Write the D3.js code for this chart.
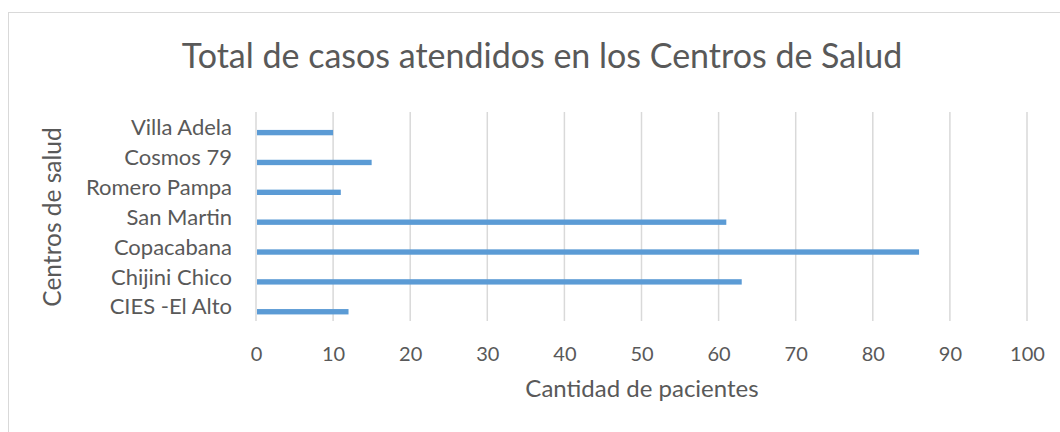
<!DOCTYPE html>
<html>
<head>
<meta charset="utf-8">
<script src="https://cdn.jsdelivr.net/npm/d3@7"></script>
<style>
  body { margin: 0; background: #fff; }
  svg text { font-family: Lato, "Open Sans", sans-serif; fill: #595959; }
</style>
</head>
<body>
<svg id="chart" width="1060" height="432"></svg>
<script>
const categories = ["Villa Adela", "Cosmos 79", "Romero Pampa", "San Martin", "Copacabana", "Chijini Chico", "CIES -El Alto"];
const values = [10, 15, 11, 61, 86, 63, 12];
const xTicks = [0, 10, 20, 30, 40, 50, 60, 70, 80, 90, 100];
const titleText = "Total de casos atendidos en los Centros de Salud";
const xTitle = "Cantidad de pacientes";
const yTitle = "Centros de salud";

(function () {
const svg = d3.select("#chart");

svg.append("rect")
  .attr("x", 8.5).attr("y", 12.5).attr("width", 1060).attr("height", 430)
  .attr("fill", "#fff").attr("stroke", "#d9d9d9").attr("stroke-width", 1);

const pLeft = 256, pRight = 1027, pTop = 112, pBottom = 321;

const x = d3.scaleLinear().domain([0, 100]).range([pLeft, pRight]);
const y = d3.scaleBand().domain(categories).range([pTop, pBottom]).padding(0);

// gridlines
svg.append("g").selectAll("line").data(xTicks).join("line")
  .attr("x1", d => x(d)).attr("x2", d => x(d))
  .attr("y1", pTop).attr("y2", pBottom)
  .attr("stroke", "#d9d9d9").attr("stroke-width", 1.5);

// bars
svg.append("g").selectAll("rect").data(categories).join("rect")
  .attr("x", x(0) + 1)
  .attr("y", c => y(c) + y.bandwidth() * 0.6)
  .attr("width", (c, i) => x(values[i]) - x(0) - 1)
  .attr("height", y.bandwidth() * 0.18)
  .attr("fill", "#5b9bd5");

// x tick labels
const xAxis = d3.axisBottom(x).tickValues(xTicks).tickSize(0).tickPadding(0);
const gx = svg.append("g").attr("transform", `translate(0,${pBottom})`).call(xAxis);
gx.select(".domain").remove();
gx.selectAll("text")
  .attr("y", 40).attr("dy", null)
  .style("font-family", "Lato, sans-serif").style("font-size", "20px").attr("fill", "#595959");

// y labels
const yAxis = d3.axisLeft(y).tickSize(0).tickPadding(0);
const gy = svg.append("g").attr("transform", `translate(232,0)`).call(yAxis);
gy.select(".domain").remove();
gy.selectAll("text")
  .attr("dy", "0.38em")
  .style("font-family", "Lato, sans-serif").style("font-size", "22px").attr("fill", "#595959");

// title
svg.append("text").attr("x", 542).attr("y", 68).attr("text-anchor", "middle")
  .style("font-size", "34px").text(titleText);

// axis titles
svg.append("text").attr("x", 642).attr("y", 397).attr("text-anchor", "middle")
  .style("font-size", "24px").text(xTitle);

svg.append("text").attr("transform", "translate(61,217) rotate(-90)").attr("text-anchor", "middle")
  .style("font-size", "24.5px").text(yTitle);
})();
</script>
</body>
</html>
